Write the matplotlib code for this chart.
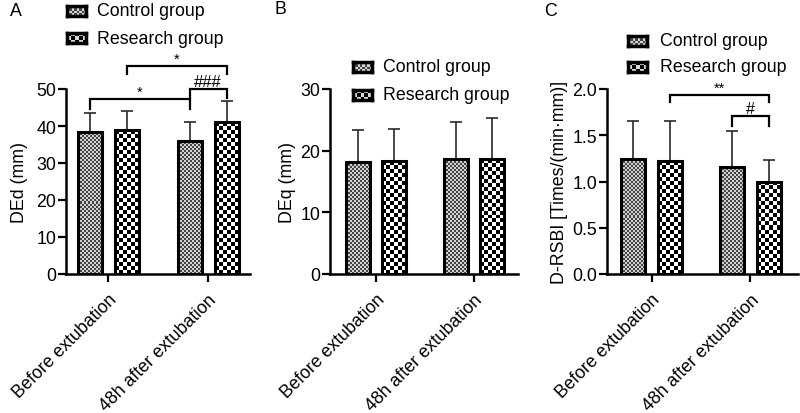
import matplotlib
matplotlib.use('Agg')
import matplotlib.pyplot as plt
import numpy as np

plt.rcParams['font.family'] = ['Liberation Sans', 'DejaVu Sans']

# data
categories = ['Before extubation', '48h after extubation']
series = ['Control group', 'Research group']

ded_mean = [[38.4, 36.0], [38.9, 41.0]]
ded_sd = [[5.1, 5.0], [5.1, 5.8]]

deq_mean = [[18.1, 18.6], [18.3, 18.6]]
deq_sd = [[5.2, 6.0], [5.2, 6.7]]

rsbi_mean = [[1.24, 1.16], [1.22, 1.00]]
rsbi_sd = [[0.41, 0.39], [0.43, 0.23]]

# comparisons: (group_a, series_a, group_b, series_b, level, drop, label, fontsize)
ded_sig = [(0, 0, 1, 0, 47.3, 2.7, '*', 10.5),
           (1, 0, 1, 1, 50.0, 2.4, '###', 12),
           (0, 1, 1, 1, 56.2, 2.2, '*', 10.5)]
rsbi_sig = [(0, 1, 1, 1, 1.935, 0.075, '**', 10.5),
            (1, 0, 1, 1, 1.71, 0.11, '#', 11.5)]

W, H = 800, 414
fig = plt.figure(figsize=(W / 100, H / 100), dpi=100)

WIDTH = 0.24
OFFSET = 0.185
CELL = [2, 4]
# checker colours (dark, light) for each series
SHADES = [(0.27, 0.82), (0.0, 1.0)]
FS = 12.8


def px_axes(x0, x1, ytop=90, ybot=275):
    return fig.add_axes([x0 / W, 1 - ybot / H, (x1 - x0) / W, (ybot - ytop) / H])


def checker_arr(ny, nx, shade):
    a = np.add.outer(np.arange(ny), np.arange(nx)) % 2
    return np.where(a == 1, shade[1], shade[0])


def checker(ax, patch, cell, shade):
    x0, y0 = patch.get_x(), patch.get_y()
    w, h = patch.get_width(), patch.get_height()
    p0 = ax.transData.transform((x0, y0))
    p1 = ax.transData.transform((x0 + w, y0 + h))
    nx = max(1, int(round((p1[0] - p0[0]) / cell)))
    ny = max(1, int(round((p1[1] - p0[1]) / cell)))
    im = ax.imshow(checker_arr(ny, nx, shade), cmap='gray', vmin=0, vmax=1,
                   extent=(x0, x0 + w, y0, y0 + h),
                   aspect='auto', interpolation='nearest', zorder=2)
    im.set_clip_path(patch)


def panel(ax, means, sds, xlim, ylim, step, ylabel, lab_x, fmt=None):
    x = np.arange(len(categories))
    ax.set_xlim(*xlim)
    ax.set_ylim(*ylim)
    for i in range(len(series)):
        pos = x + (2 * i - 1) * OFFSET
        ax.errorbar(pos, means[i], yerr=[np.zeros(len(x)), sds[i]], fmt='none',
                    ecolor='#2a2a2a', elinewidth=1.2, capsize=4.5, capthick=1.2,
                    zorder=1, clip_on=False)
        bars = ax.bar(pos, means[i], WIDTH, facecolor='none', edgecolor='black',
                      linewidth=2.2, zorder=3)
        for b in bars:
            checker(ax, b, CELL[i], SHADES[i])
    ax.set_xlim(*xlim)
    ax.set_ylim(*ylim)
    ax.set_yticks(np.arange(ylim[0], ylim[1] + step / 2, step))
    if fmt:
        ax.yaxis.set_major_formatter(plt.FormatStrFormatter(fmt))
    ax.set_xticks(x)
    ax.set_xticklabels(categories, rotation=45, ha='right', va='top',
                       rotation_mode='anchor', fontsize=FS)
    ax.tick_params(axis='y', labelsize=FS, length=6, width=1.6, pad=1)
    ax.tick_params(axis='x', length=6, width=1.6, pad=6)
    for s in ['top', 'right']:
        ax.spines[s].set_visible(False)
    for s in ['left', 'bottom']:
        ax.spines[s].set_linewidth(1.8)
    ax.set_ylabel(ylabel, fontsize=FS)
    ax.yaxis.set_label_coords(lab_x, 0.5)


def brackets(ax, sigs):
    for ga, sa, gb, sb, lev, drop, label, fs in sigs:
        xa = ga + (2 * sa - 1) * OFFSET
        xb = gb + (2 * sb - 1) * OFFSET
        ax.plot([xa, xa, xb, xb], [lev - drop, lev, lev, lev - drop], color='black',
                lw=1.6, clip_on=False, solid_joinstyle='miter')
        ax.text((xa + xb) / 2, lev, label, ha='center', va='bottom', fontsize=fs)


def legend(x, ys, tx):
    for i, name in enumerate(series):
        y = ys[i]
        lax = fig.add_axes([x / W, 1 - (y + 5) / H, 19 / W, 10 / H])
        if i == 0:
            arr = checker_arr(4, 8, SHADES[0])
        else:
            arr = checker_arr(3, 5, (0.0, 0.85))
        lax.imshow(arr, cmap='gray', vmin=0, vmax=1, aspect='auto', interpolation='nearest')
        lax.set_xticks([])
        lax.set_yticks([])
        for s in lax.spines.values():
            s.set_linewidth(2.5)
        fig.text(tx / W, 1 - y / H, name, fontsize=FS, va='center', ha='left')


ax1 = px_axes(66, 250)
panel(ax1, ded_mean, ded_sd, (-0.42, 1.42), (0, 50), 10, 'DEd (mm)', -0.207)
brackets(ax1, ded_sig)

ax2 = px_axes(330, 518)
panel(ax2, deq_mean, deq_sd, (-0.47, 1.45), (0, 30), 10, 'DEq (mm)', -0.18)

ax3 = px_axes(607, 798)
panel(ax3, rsbi_mean, rsbi_sd, (-0.45, 1.48), (0, 2.0), 0.5, 'D-RSBI [Times/(min\u00b7mm)]',
      -0.204, fmt='%.1f')
brackets(ax3, rsbi_sig)

legend(67, [12, 39], 97)
legend(353, [68, 96], 383)
legend(628, [42, 68], 660)

fig.text(10 / W, 1 - 12 / H, 'A', fontsize=FS, va='center')
fig.text(275 / W, 1 - 10 / H, 'B', fontsize=FS, va='center')
fig.text(544 / W, 1 - 12 / H, 'C', fontsize=FS, va='center')

fig.savefig('out.png', dpi=100)
